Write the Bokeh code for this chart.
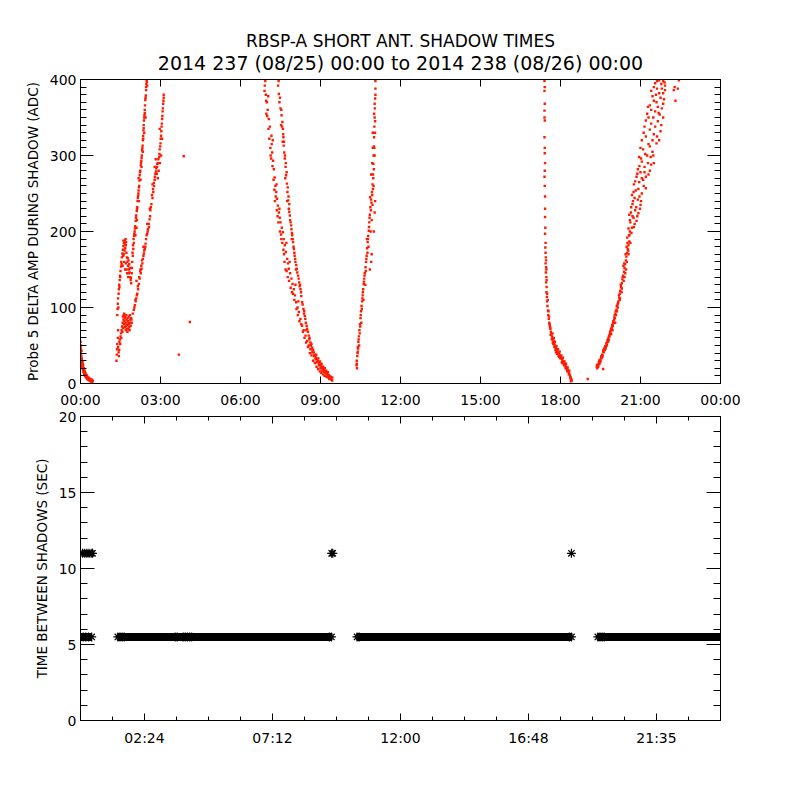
from bokeh.plotting import figure
from bokeh.models import Range1d, LinearAxis, FixedTicker, SingleIntervalTicker, Title
from bokeh.layouts import column
from bokeh.embed import file_html
from bokeh.resources import INLINE

# ---------------- data (hours of day, ADC amplitude) ----------------
shadow_a = [(0.00,55),(0.00,47),(0.01,40),(0.02,50),(0.03,36),(0.03,30),(0.04,43),(0.05,27),(0.05,33),
            (0.06,24),(0.07,29),(0.08,21),(0.08,26),(0.09,18),(0.10,23),(0.11,16),(0.12,20),(0.13,14),
            (0.14,18),(0.15,12),(0.16,16),(0.17,10),(0.18,14),(0.19,9),(0.20,12),(0.22,8),(0.23,11),
            (0.24,7),(0.26,9),(0.27,6),(0.29,8),(0.30,5),(0.32,7),(0.34,4),(0.36,6),(0.38,3),(0.40,5),
            (0.42,2),(0.44,4),(0.46,3),(0.01,45),(0.02,38),(0.04,32),(0.06,28),(0.07,22),(0.09,25),
            (0.11,20),(0.12,15),(0.14,12),(0.16,13),(0.18,11),(0.21,10),(0.23,8),(0.25,6),(0.28,7),
            (0.31,6),(0.33,5),(0.35,4),(0.37,5),(0.39,4),(0.41,3),(0.43,5)]

shadow_b_hump = [(1.35,30),(1.36,38),(1.37,45),(1.38,52),(1.40,60),(1.39,98),(1.40,105),(1.41,112),
                 (1.43,118),(1.44,124),(1.45,130),(1.47,136),(1.48,142),(1.50,148),(1.52,154),(1.53,160),
                 (1.55,166),(1.57,171),(1.59,176),(1.61,181),(1.63,185),(1.66,188),(1.69,190),(1.71,186),
                 (1.68,178),(1.72,172),(1.74,166),(1.76,160),(1.78,155),(1.80,162),(1.82,150),(1.84,146),
                 (1.86,140),(1.88,136),(1.90,132),(1.64,160),(1.67,150),(1.70,158),(1.75,145),(1.83,157),
                 (1.62,170),(1.58,155),(1.73,150),(1.79,140),(1.41,70),(1.38,90),(1.42,100),(1.46,127),
                 (1.49,140),(1.54,157),(1.60,168),(1.65,175),(1.70,182),(1.77,165),(1.81,145),(1.85,152),
                 (1.89,139),(1.61,188),(1.67,183)]

shadow_b_low = [(1.41,48),(1.43,41),(1.44,36),(1.46,55),(1.48,58),(1.50,62),(1.52,66),(1.54,70),(1.56,75),
                (1.58,80),(1.59,88),(1.61,84),(1.63,78),(1.64,92),(1.66,86),(1.67,74),(1.69,80),(1.70,70),
                (1.72,90),(1.73,84),(1.75,77),(1.76,68),(1.78,82),(1.79,72),(1.81,88),(1.82,78),(1.84,70),
                (1.86,84),(1.88,76),(1.90,86),(1.92,80),(1.45,44),(1.49,52),(1.53,60),(1.57,68),(1.60,73),
                (1.62,90),(1.65,82),(1.68,88),(1.71,76),(1.74,72),(1.77,86),(1.80,80),(1.83,74),(1.85,90),
                (1.87,80),(1.91,84)]

shadow_b_right = [(1.96,92),(2.00,97),(2.04,103),(2.07,108),(2.09,112),(2.13,118),(2.16,124),(2.19,131),
                  (2.22,138),(2.26,145),(2.29,151),(2.32,158),(2.34,164),(2.38,171),(2.41,177),(2.44,184),
                  (2.46,190),(2.50,197),(2.53,203),(2.56,210),(2.59,216),(2.62,228),(2.66,236),(2.70,244),
                  (2.73,252),(2.76,260),(2.78,268),(2.81,276),(2.84,283),(2.88,289),(2.92,295),(2.96,302),
                  (2.99,312),(3.01,322),(3.03,332),(3.05,342),(3.07,352),(3.09,362),(3.11,372),(3.12,380),
                  (2.10,135),(2.25,150),(2.36,180),(2.50,210),(2.78,285),(2.86,276),(2.93,280),(2.98,290),
                  (2.82,295),(2.90,270),(3.02,300),(2.97,335),(3.06,322),(2.70,262),(2.60,230),
                  (2.02,100),(2.06,110),(2.11,116),(2.15,128),(2.20,140),(2.24,148),(2.28,155),(2.31,162),
                  (2.36,168),(2.39,175),(2.43,180),(2.48,195),(2.52,200),(2.57,206),(2.61,220),(2.64,232),
                  (2.68,248),(2.72,256),(2.75,264),(2.79,272),(2.83,279),(2.87,285),(2.91,290),(2.95,298),
                  (2.97,308),(3.00,316),(3.02,326),(3.04,338),(3.06,348),(3.08,358),(3.10,368),(3.12,376)]

shadow_b_left = [(1.92,145),(1.94,160),(1.96,168),(1.98,177),(2.00,185),(2.01,194),(2.03,200),(2.05,207),
                 (2.07,214),(2.09,221),(2.11,227),(2.13,232),(2.14,240),(2.16,247),(2.18,254),(2.20,260),
                 (2.21,267),(2.22,274),(2.24,280),(2.26,287),(2.28,293),(2.30,300),(2.31,307),(2.33,313),
                 (2.34,320),(2.35,326),(2.36,333),(2.37,340),(2.38,346),(2.40,353),(2.41,360),(2.42,366),
                 (2.43,373),(2.45,379),(2.46,386),(2.47,394),(2.48,399),(2.50,392),(2.06,195),(2.12,215),
                 (2.19,240),(2.25,268),(2.29,285),(2.34,305),(2.39,330),(2.44,350),(2.18,270),(2.10,205),
                 (1.93,152),(1.95,172),(1.97,182),(1.99,190),(2.02,197),(2.04,204),(2.08,218),(2.12,230),
                 (2.15,244),(2.17,250),(2.19,258),(2.23,278),(2.27,290),(2.29,297),(2.32,310),(2.35,322),
                 (2.37,336),(2.39,350),(2.41,356),(2.44,376),(2.46,390),(2.49,397)]

shadow_strays = [(3.69,38),(3.87,299),(4.10,81),(19.02,6),(19.60,19)]

shadow_c_left = [(6.91,392),(6.95,380),(6.99,370),(7.02,360),(7.06,348),(7.10,338),(7.16,326),(7.17,315),
                 (7.19,304),(7.22,293),(7.25,282),(7.28,271),(7.31,260),(7.34,252),(7.37,243),(7.40,234),
                 (7.44,225),(7.47,218),(7.50,212),(7.55,205),(7.59,199),(7.62,190),(7.66,182),(7.70,173),
                 (7.75,164),(7.78,158),(7.81,151),(7.86,145),(7.91,138),(7.95,131),(8.00,124),(8.04,116),
                 (8.09,107),(8.14,100),(8.19,94),(8.25,85),(8.31,76),(8.37,70),(8.44,63),(8.50,56),
                 (8.56,50),(8.62,45),(8.69,41),(8.75,36),(8.81,32),(8.87,28),(8.94,24),(9.00,20),(9.06,17),
                 (9.12,15),(9.19,13),(9.25,12),(9.31,11),(9.38,9),(9.44,8),(6.97,355),(7.04,378),
                 (7.13,300),(7.21,320),(7.29,240),(7.35,262),(7.46,230),(7.53,190),(7.63,170),(7.72,185),
                 (7.84,160),(7.93,120),(8.06,130),(8.17,108),
                 (6.93,398),(6.90,385),(6.96,372),(7.00,352),(7.05,335),(7.08,322),(7.12,310),(7.15,296),
                 (7.20,286),(7.24,268),(7.27,255),(7.32,246),(7.36,228),(7.39,220),(7.42,212),(7.48,200),
                 (7.52,196),(7.57,185),(7.61,176),(7.65,160),(7.69,150),(7.73,148),(7.77,140),(7.82,135),
                 (7.88,126),(7.97,118),(8.02,110),(8.10,98),(8.15,90),(8.21,82),(8.28,78),(8.34,68),
                 (8.40,60),(8.46,54),(8.53,48),(8.60,40),(8.66,37),(8.72,30),(8.79,27),(8.85,22),(8.91,19),
                 (8.97,16),(9.03,14),(9.09,12),(9.15,10),(9.21,9),(9.27,8),(9.33,6)]

shadow_c_right = [(7.41,392),(7.44,381),(7.46,370),(7.50,362),(7.54,353),(7.57,344),(7.59,335),(7.61,324),
                  (7.62,313),(7.64,304),(7.66,296),(7.69,285),(7.71,274),(7.74,263),(7.76,252),(7.79,241),
                  (7.81,230),(7.85,221),(7.88,212),(7.91,203),(7.94,195),(7.97,186),(8.00,177),(8.03,168),
                  (8.06,160),(8.11,151),(8.16,142),(8.20,133),(8.25,124),(8.28,115),(8.31,107),(8.36,98),
                  (8.41,89),(8.45,80),(8.50,72),(8.56,63),(8.62,54),(8.69,47),(8.75,41),(8.81,36),(8.87,32),
                  (8.94,28),(9.00,24),(9.06,21),(9.12,19),(9.19,16),(9.25,13),(9.30,11),(9.35,9),(9.40,6),
                  (9.44,4),(7.52,340),(7.58,318),(7.68,270),(7.75,240),(7.83,226),(7.92,190),(8.08,150),
                  (8.22,128),(8.38,92),(8.47,70),(8.58,58),(8.66,52),(8.72,44),(8.84,38),(8.92,33),
                  (8.98,29),(9.04,26),(9.10,22),(9.16,20),(9.22,17),(9.28,15),
                  (7.43,398),(7.48,376),(7.53,360),(7.56,338),(7.60,328),(7.63,318),(7.67,300),(7.70,290),
                  (7.73,278),(7.77,258),(7.80,246),(7.83,236),(7.86,215),(7.90,208),(7.93,198),(7.96,190),
                  (7.99,180),(8.02,172),(8.05,164),(8.09,156),(8.13,146),(8.18,138),(8.23,130),(8.27,120),
                  (8.33,104),(8.39,95),(8.43,85),(8.48,76),(8.53,68),(8.59,60),(8.64,50),(8.70,44),
                  (8.77,38),(8.83,34),(8.90,30),(8.96,26),(9.02,23),(9.08,20),(9.14,17),(9.20,14),
                  (9.26,12),(9.32,10),(9.37,7),(9.42,5)]

shadow_d = [(10.35,24),(10.36,30),(10.38,36),(10.40,42),(10.40,48),(10.42,55),(10.44,62),(10.46,70),
            (10.48,78),(10.50,86),(10.52,95),(10.54,102),(10.56,108),(10.58,116),(10.60,124),(10.62,131),
            (10.64,138),(10.66,145),(10.69,153),(10.71,160),(10.73,168),(10.75,178),(10.77,186),(10.79,194),
            (10.81,201),(10.83,212),(10.85,222),(10.87,232),(10.90,242),(10.93,252),(10.95,262),(10.97,275),
            (10.98,289),(10.99,300),(11.00,312),(11.01,324),(11.02,338),(11.03,350),(11.04,362),(11.05,375),
            (11.06,388),(11.06,398),(10.37,20),(10.45,50),(10.53,80),(10.61,110),(10.68,130),(10.80,180),
            (10.88,200),(10.92,215),(10.95,235),(10.74,190),(10.86,245),(10.99,260),(11.03,300),(10.96,330),
            (11.01,355),(10.85,150),(10.90,160),(10.92,170),(11.00,200),(11.03,225),(11.05,240),
            (10.36,26),(10.39,40),(10.41,46),(10.43,58),(10.47,66),(10.49,75),(10.51,90),(10.55,98),
            (10.57,112),(10.59,120),(10.63,134),(10.65,142),(10.70,148),(10.72,164),(10.76,172),(10.78,190),
            (10.82,206),(10.84,218),(10.89,228),(10.91,238),(10.94,248),(10.97,256),(10.98,270),(11.00,282),
            (11.02,310),(11.04,330),(11.05,345),(11.03,368),(11.06,380),(10.94,290),(10.96,310),(10.90,275)]

shadow_e = [(17.40,398),(17.40,385),(17.41,368),(17.40,359),(17.41,346),(17.40,324),(17.41,303),(17.41,280),
            (17.40,272),(17.42,246),(17.42,219),(17.42,197),(17.43,179),(17.44,172),(17.45,166),(17.44,158),
            (17.46,153),(17.45,146),(17.47,140),(17.46,133),(17.48,127),(17.47,120),(17.49,114),(17.50,108),
            (17.51,102),(17.53,96),(17.54,90),(17.56,85),(17.58,80),(17.60,76),(17.62,72),(17.64,68),
            (17.66,65),(17.68,62),(17.70,60),(17.72,58),(17.74,56),(17.76,53),(17.78,51),(17.80,49),
            (17.82,47),(17.84,45),(17.86,44),(17.88,42),(17.90,41),(17.92,40),(17.94,39),(17.96,38),
            (17.98,37),(18.00,35),(18.02,34),(18.04,33),(18.06,32),(18.08,30),(18.10,29),(18.12,27),
            (18.14,26),(18.16,25),(18.18,24),(18.20,22),(18.22,21),(18.24,19),(18.26,18),(18.28,17),
            (18.30,16),(18.32,14),(18.34,12),(18.36,10),(18.38,8),(18.40,6),(18.42,4),(17.70,66),
            (17.75,60),(17.79,55),(17.85,49),(17.91,45),(17.97,42),(18.03,37),(18.09,34),(18.15,29),
            (18.21,26),(18.27,21),(18.33,17),(17.73,52),(17.83,41),(17.95,35),(18.05,28),
            (17.41,390),(17.40,350),(17.41,310),(17.42,290),(17.41,260),(17.42,230),(17.43,205),(17.44,185),
            (17.46,162),(17.47,150),(17.48,136),(17.50,118),(17.52,110),(17.55,95),(17.57,88),(17.59,78),
            (17.61,74),(17.63,64),(17.67,58),(17.71,54),(17.77,48),(17.81,44),(17.87,39),(17.93,36),
            (17.99,33),(18.07,27),(18.13,24),(18.19,20),(18.25,16),(18.31,12),(18.37,7),(18.39,3)]

shadow_f = [(19.36,22),(19.38,20),(19.40,25),(19.42,24),(19.44,28),(19.46,26),(19.48,31),(19.50,30),
            (19.52,34),(19.54,33),(19.56,38),(19.58,37),(19.60,42),(19.62,41),(19.64,45),(19.66,44),
            (19.68,49),(19.70,48),(19.72,53),(19.74,51),(19.76,56),(19.78,55),(19.80,60),(19.82,63),
            (19.84,62),(19.86,68),(19.88,66),(19.90,72),(19.92,71),(19.94,77),(19.96,76),(19.98,82),
            (20.00,80),(20.02,87),(20.04,86),(20.06,92),(20.08,90),(20.10,97),(20.12,95),(19.90,65),
            (19.95,70),(20.05,80),(20.15,100),(20.14,104),(20.17,108),(20.20,113),(20.22,118),(20.24,122),
            (20.27,127),(20.30,132),(20.32,137),(20.35,142),(20.38,147),(20.40,152),(20.42,157),(20.45,162),
            (20.47,167),(20.50,172),(20.52,177),(20.55,182),(20.58,187),(20.22,110),(20.30,125),(20.40,140),
            (20.46,150),(20.36,155),(20.55,170),(20.48,180),(20.62,185),(20.50,192),(20.58,195),(20.66,198),
            (20.55,204),(20.75,206),(20.62,212),(20.85,214),(20.70,220),(20.58,222),(20.92,224),(20.80,228),
            (20.65,232),(21.00,235),(20.72,240),(20.90,242),(20.68,248),(21.05,250),(20.82,254),(21.20,257),
            (20.75,262),(20.95,265),(21.10,268),(20.85,272),(21.30,275),(21.00,278),(20.90,282),(21.15,285),
            (21.40,288),(21.05,292),(20.95,298),(21.25,300),(21.45,305),(21.10,308),(21.35,312),(21.60,316),
            (21.05,320),(21.20,325),(21.50,328),(21.75,332),(21.15,338),(21.40,342),(21.65,345),(21.85,350),
            (21.25,355),(21.55,358),(21.80,362),(21.35,366),(21.60,370),(21.88,374),(21.45,378),(21.70,382),
            (21.92,386),(21.50,390),(21.78,394),(21.62,398),(21.85,398),(21.30,350),(21.70,320),(21.50,290),
            (21.90,396),(22.25,386),(22.44,399),(22.31,372),(22.40,388),(22.28,390),
            (19.37,24),(19.41,22),(19.45,30),(19.49,28),(19.53,36),(19.57,35),(19.61,44),(19.65,47),
            (19.69,46),(19.73,50),(19.77,58),(19.81,57),(19.85,65),(19.89,70),(19.93,74),(19.97,79),
            (20.01,84),(20.03,90),(20.07,95),(20.11,102),(20.16,106),(20.19,116),(20.23,112),(20.26,130),
            (20.29,120),(20.33,140),(20.37,135),(20.39,158),(20.43,145),(20.44,170),(20.49,160),(20.51,185),
            (20.54,175),(20.57,195),(20.60,200),(20.68,205),(20.78,210),(20.60,215),(20.74,218),(20.88,220),
            (20.64,225),(20.84,232),(20.98,230),(20.70,236),(20.78,244),(20.96,246),(21.02,240),(20.74,252),
            (20.92,256),(21.12,260),(20.80,266),(21.05,270),(21.20,272),(20.88,276),(21.15,278),(21.35,280),
            (20.96,286),(21.28,290),(21.02,296),(21.38,298),(21.18,302),(21.48,300),(21.00,310),(21.30,315),
            (21.45,320),(21.12,330),(21.62,325),(21.35,334),(21.55,338),(21.78,340),(21.20,346),(21.48,350),
            (21.72,354),(21.40,360),(21.65,364),(21.85,368),(21.50,372),(21.75,376),(21.40,385),(21.62,388),
            (21.85,382),(21.55,395),(21.70,399),(21.92,392),(21.80,388),(21.58,380),(21.68,356),(21.28,364)]

# bottom panel: time between shadows (sec)
band_value = 5.5
band_start = [0.0, 1.40, 10.37, 19.40]
band_end = [0.42, 9.41, 18.41, 24.0]
band_asterisk_t = [0.0, 0.1, 0.2, 0.3, 0.42, 1.40, 1.48, 1.56, 1.64, 3.55, 3.63, 3.85, 3.93, 4.01, 4.09,
                   4.17, 9.33, 9.41, 10.37, 10.45, 18.33, 18.41, 19.40, 19.48, 19.56, 19.64]
long_value = 11.0
long_t = [0.0, 0.08, 0.16, 0.24, 0.32, 0.40, 0.45, 9.42, 9.46, 18.41]

top_ticks = [0, 3, 6, 9, 12, 15, 18, 21, 24]
top_tick_labels = ["00:00", "03:00", "06:00", "09:00", "12:00", "15:00", "18:00", "21:00", "00:00"]
bot_ticks = [2.4, 7.2, 12.0, 16.8, 21.6]
bot_minor_ticks = [1.2, 3.6, 4.8, 6.0, 8.4, 9.6, 10.8, 13.2, 14.4, 15.6, 18.0, 19.2, 20.4, 22.8]
bot_tick_labels = ["02:24", "07:12", "12:00", "16:48", "21:35"]

title_1 = "RBSP-A SHORT ANT. SHADOW TIMES"
title_2 = "2014 237 (08/25) 00:00 to 2014 238 (08/26) 00:00"
ylabel_top = "Probe 5 DELTA AMP DURING SHADOW (ADC)"
ylabel_bot = "TIME BETWEEN SHADOWS (SEC)"

FONT = "DejaVu Sans"

def unzip(pairs):
    return [p[0] for p in pairs], [p[1] for p in pairs]

def style_axis(ax, tin, minor_in, show_labels=True, standoff=4):
    ax.major_tick_in = tin
    ax.major_tick_out = 0
    ax.minor_tick_in = minor_in
    ax.minor_tick_out = 0
    ax.axis_line_color = "black"
    ax.major_tick_line_color = "black"
    ax.minor_tick_line_color = "black"
    ax.major_label_text_font = FONT
    if show_labels:
        ax.major_label_text_color = "black"
        ax.major_label_text_font_size = "14px"
        ax.major_label_standoff = standoff
    else:
        ax.major_label_text_color = None
        ax.major_label_text_font_size = "1px"
        ax.major_label_standoff = 0
    ax.axis_label_text_font = FONT
    ax.axis_label_text_font_size = "13.5px"
    ax.axis_label_text_font_style = "normal"
    ax.axis_label_text_color = "black"
    ax.axis_label_standoff = 6

def base_panel(y_max, top, bottom):
    p = figure(output_backend="svg", toolbar_location=None, frame_width=640, frame_height=304,
               x_range=Range1d(0, 24), y_range=Range1d(0, y_max),
               min_border_left=80, min_border_right=80, min_border_top=top, min_border_bottom=bottom)
    p.xgrid.visible = False
    p.ygrid.visible = False
    p.outline_line_color = "black"
    p.outline_line_alpha = 1.0
    p.background_fill_color = "white"
    p.border_fill_color = "white"
    return p

# ---------------- top panel ----------------
p1 = base_panel(400, 79, 24)
top_xticker = FixedTicker(ticks=top_ticks, minor_ticks=[])
top_yticker = SingleIntervalTicker(interval=100, num_minor_ticks=10)
p1.xaxis[0].ticker = top_xticker
p1.xaxis[0].major_label_overrides = {t: lab for t, lab in zip(top_ticks, top_tick_labels)}
style_axis(p1.xaxis[0], 7, 0, True, 8)
p1.yaxis[0].ticker = top_yticker
style_axis(p1.yaxis[0], 13, 6, True, 4)
p1.yaxis[0].axis_label = ylabel_top

ax_r = LinearAxis(ticker=top_yticker)
style_axis(ax_r, 13, 6, False)
p1.add_layout(ax_r, "right")
ax_t = LinearAxis(ticker=top_xticker)
style_axis(ax_t, 7, 0, False)
p1.add_layout(ax_t, "above")

p1.add_layout(Title(text=title_2, align="center", text_font=FONT, text_font_size="19px",
                    text_font_style="normal", text_color="black", standoff=12), "above")
p1.add_layout(Title(text=title_1, align="center", text_font=FONT, text_font_size="17px",
                    text_font_style="normal", text_color="black", standoff=-14), "above")

for branch in [shadow_a, shadow_b_hump, shadow_b_low, shadow_b_right, shadow_b_left, shadow_strays,
               shadow_c_left, shadow_c_right, shadow_d, shadow_e, shadow_f]:
    xs, ys = unzip(branch)
    p1.scatter(xs, ys, marker="square", size=2.4, fill_color="#ff1a00", line_color=None)

# ---------------- bottom panel ----------------
p2 = base_panel(20, 6, 40)
bot_xticker = FixedTicker(ticks=bot_ticks, minor_ticks=bot_minor_ticks)
bot_yticker = SingleIntervalTicker(interval=5, num_minor_ticks=5)
p2.xaxis[0].ticker = bot_xticker
p2.xaxis[0].major_label_overrides = {t: lab for t, lab in zip(bot_ticks, bot_tick_labels)}
style_axis(p2.xaxis[0], 7, 4, True, 9)
p2.yaxis[0].ticker = bot_yticker
style_axis(p2.yaxis[0], 14, 7, True, 4)
p2.yaxis[0].axis_label = ylabel_bot

ax_r2 = LinearAxis(ticker=bot_yticker)
style_axis(ax_r2, 14, 7, False)
p2.add_layout(ax_r2, "right")
ax_t2 = LinearAxis(ticker=bot_xticker)
style_axis(ax_t2, 7, 4, False)
p2.add_layout(ax_t2, "above")

p2.segment(x0=band_start, y0=[band_value] * len(band_start), x1=band_end, y1=[band_value] * len(band_end),
           line_width=8, line_color="black", line_cap="butt")
p2.scatter(band_asterisk_t, [band_value] * len(band_asterisk_t), marker="asterisk", size=9,
           line_color="black", line_width=1.2)
p2.scatter(long_t, [long_value] * len(long_t), marker="asterisk", size=9,
           line_color="black", line_width=1.2)

layout = column(p1, p2)
open("out.html", "w").write(file_html(layout, INLINE))
